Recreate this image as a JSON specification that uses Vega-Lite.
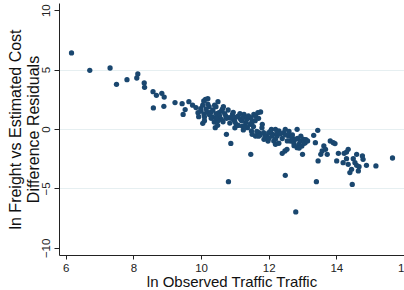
{
  "$schema": "https://vega.github.io/schema/vega-lite/v6.json",
  "width": 345,
  "height": 252,
  "autosize": {"type": "none"},
  "padding": {"left": 59, "top": 3, "right": 0, "bottom": 35},
  "background": "white",
  "config": {
    "view": {"stroke": null},
    "font": "Liberation Sans"
  },
  "data": {
    "values": [
      {"x": 6.17, "y": 6.40}, {"x": 6.71, "y": 4.94}, {"x": 7.31, "y": 5.13}, {"x": 7.50, "y": 3.76},
      {"x": 7.81, "y": 4.15}, {"x": 8.13, "y": 4.63}, {"x": 8.10, "y": 4.29}, {"x": 8.32, "y": 3.87},
      {"x": 8.33, "y": 3.51}, {"x": 8.58, "y": 3.14}, {"x": 8.68, "y": 2.83}, {"x": 8.84, "y": 3.0},
      {"x": 8.91, "y": 2.69}, {"x": 8.59, "y": 1.77}, {"x": 8.90, "y": 1.91}, {"x": 9.23, "y": 2.22},
      {"x": 9.44, "y": 2.13}, {"x": 9.47, "y": 1.23}, {"x": 9.53, "y": 1.63}, {"x": 9.64, "y": 2.30},
      {"x": 9.75, "y": 2.0}, {"x": 9.85, "y": 1.8}, {"x": 9.91, "y": 1.37}, {"x": 9.93, "y": 1.04},
      {"x": 9.99, "y": 1.71}, {"x": 10.05, "y": 2.0}, {"x": 10.08, "y": 2.36}, {"x": 10.13, "y": 2.5},
      {"x": 10.20, "y": 2.55}, {"x": 10.05, "y": 0.48}, {"x": 10.09, "y": 1.23}, {"x": 10.17, "y": 1.43},
      {"x": 10.24, "y": 1.88}, {"x": 10.30, "y": 1.43}, {"x": 10.34, "y": 1.01}, {"x": 10.39, "y": 0.59},
      {"x": 10.42, "y": 0.11}, {"x": 10.44, "y": 1.88}, {"x": 10.53, "y": 1.37}, {"x": 10.63, "y": 1.66},
      {"x": 10.66, "y": 1.88}, {"x": 10.60, "y": 0.81}, {"x": 10.49, "y": 0.31}, {"x": 10.75, "y": -0.45},
      {"x": 10.88, "y": -1.21}, {"x": 10.81, "y": -4.43}, {"x": 10.73, "y": 1.09}, {"x": 10.83, "y": 0.95},
      {"x": 10.93, "y": 1.23}, {"x": 10.98, "y": 0.76}, {"x": 11.04, "y": 0.39}, {"x": 11.10, "y": 1.09},
      {"x": 11.17, "y": 0.81}, {"x": 11.22, "y": 0.25}, {"x": 11.27, "y": 1.23}, {"x": 11.32, "y": 0.53},
      {"x": 11.37, "y": 0.11}, {"x": 11.25, "y": -0.08}, {"x": 11.47, "y": 0.95}, {"x": 11.51, "y": 0.67},
      {"x": 11.56, "y": 1.23}, {"x": 11.61, "y": 1.09}, {"x": 11.68, "y": 1.37}, {"x": 11.76, "y": 1.43},
      {"x": 11.49, "y": -0.17}, {"x": 11.51, "y": -0.45}, {"x": 11.61, "y": -0.59}, {"x": 11.71, "y": -0.31},
      {"x": 11.81, "y": 0.39}, {"x": 11.47, "y": -2.13}, {"x": 11.86, "y": -0.87}, {"x": 11.95, "y": -0.59},
      {"x": 12.0, "y": -0.31}, {"x": 12.08, "y": -0.03}, {"x": 12.12, "y": -0.45}, {"x": 12.20, "y": -0.03},
      {"x": 12.25, "y": -0.59}, {"x": 12.30, "y": -0.17}, {"x": 11.98, "y": -1.01}, {"x": 12.20, "y": -1.29},
      {"x": 12.20, "y": -0.87}, {"x": 12.40, "y": -2.05}, {"x": 12.48, "y": -1.85}, {"x": 12.54, "y": -1.71},
      {"x": 12.49, "y": -3.90}, {"x": 12.44, "y": -0.31}, {"x": 12.49, "y": -0.03}, {"x": 12.59, "y": -0.59},
      {"x": 12.64, "y": -1.01}, {"x": 12.69, "y": -0.73}, {"x": 12.74, "y": -1.15}, {"x": 12.79, "y": -0.87},
      {"x": 12.84, "y": -0.03}, {"x": 12.84, "y": -1.57}, {"x": 12.89, "y": -1.29}, {"x": 12.93, "y": -1.01},
      {"x": 12.98, "y": -1.43}, {"x": 13.03, "y": -0.87}, {"x": 13.08, "y": -1.15}, {"x": 13.00, "y": -2.13},
      {"x": 12.80, "y": -6.98}, {"x": 13.33, "y": -0.53}, {"x": 13.45, "y": -0.11}, {"x": 13.38, "y": -1.15},
      {"x": 13.46, "y": -2.69}, {"x": 13.41, "y": -4.43}, {"x": 13.54, "y": -2.13}, {"x": 13.58, "y": -1.85},
      {"x": 13.63, "y": -1.43}, {"x": 13.68, "y": -1.71}, {"x": 13.73, "y": -2.13}, {"x": 13.82, "y": -1.01},
      {"x": 13.91, "y": -1.15}, {"x": 13.96, "y": -1.23}, {"x": 14.01, "y": -2.69}, {"x": 14.06, "y": -2.05},
      {"x": 14.23, "y": -2.05}, {"x": 14.30, "y": -1.94}, {"x": 14.35, "y": -1.71}, {"x": 14.20, "y": -2.83},
      {"x": 14.30, "y": -2.50}, {"x": 14.35, "y": -2.97}, {"x": 14.47, "y": -4.66}, {"x": 14.40, "y": -3.67},
      {"x": 14.45, "y": -3.39}, {"x": 14.50, "y": -2.50}, {"x": 14.55, "y": -2.83}, {"x": 14.60, "y": -2.13},
      {"x": 14.60, "y": -3.06}, {"x": 14.65, "y": -3.53}, {"x": 14.67, "y": -3.17}, {"x": 14.77, "y": -2.27},
      {"x": 14.79, "y": -2.55}, {"x": 14.89, "y": -3.06}, {"x": 15.17, "y": -3.11}, {"x": 15.66, "y": -2.44},
      {"x": 10.0, "y": 1.5}, {"x": 10.1, "y": 1.0}, {"x": 10.15, "y": 1.7}, {"x": 10.2, "y": 2.1},
      {"x": 10.25, "y": 1.2}, {"x": 10.3, "y": 0.9}, {"x": 10.35, "y": 1.6}, {"x": 10.4, "y": 2.0},
      {"x": 10.45, "y": 1.3}, {"x": 10.5, "y": 0.7}, {"x": 10.55, "y": 1.1}, {"x": 10.6, "y": 1.5},
      {"x": 10.65, "y": 0.6}, {"x": 10.7, "y": 1.3}, {"x": 10.75, "y": 0.9}, {"x": 10.8, "y": 1.6},
      {"x": 10.85, "y": 0.5}, {"x": 10.9, "y": 0.9}, {"x": 10.95, "y": 1.4}, {"x": 11.0, "y": 0.6},
      {"x": 11.05, "y": 1.0}, {"x": 11.1, "y": 0.3}, {"x": 11.15, "y": 1.3}, {"x": 11.2, "y": 0.7},
      {"x": 11.25, "y": 1.0}, {"x": 11.3, "y": 0.2}, {"x": 11.35, "y": 0.8}, {"x": 11.4, "y": 1.1},
      {"x": 11.45, "y": 0.4}, {"x": 11.55, "y": 0.2}, {"x": 11.6, "y": 0.7}, {"x": 11.65, "y": -0.2},
      {"x": 11.7, "y": 0.9}, {"x": 11.75, "y": -0.5}, {"x": 11.8, "y": 0.1}, {"x": 11.85, "y": -0.3},
      {"x": 11.9, "y": -0.6}, {"x": 12.0, "y": -0.8}, {"x": 12.05, "y": -0.2}, {"x": 12.1, "y": -0.6},
      {"x": 12.15, "y": -1.0}, {"x": 12.25, "y": -0.3}, {"x": 12.35, "y": -0.4}, {"x": 12.4, "y": -0.8},
      {"x": 12.5, "y": -0.5}, {"x": 12.55, "y": -1.0}, {"x": 12.6, "y": -0.2}, {"x": 12.7, "y": -0.5},
      {"x": 12.75, "y": -1.4}, {"x": 12.85, "y": -0.8}, {"x": 12.9, "y": -1.6}, {"x": 12.95, "y": -0.6},
      {"x": 13.05, "y": -1.2}, {"x": 13.1, "y": -0.9}, {"x": 13.15, "y": -1.0}, {"x": 10.5, "y": 2.3},
      {"x": 10.1, "y": 0.7}, {"x": 10.45, "y": 0.9}, {"x": 11.0, "y": 0.1}, {"x": 11.5, "y": 0.5},
      {"x": 11.7, "y": -0.6}, {"x": 12.3, "y": -1.2}
    ]
  },
  "mark": {"type": "circle", "size": 28, "color": "#1a476f", "opacity": 1},
  "encoding": {
    "x": {
      "field": "x",
      "type": "quantitative",
      "scale": {"domain": [5.8, 16.0], "nice": false, "zero": false},
      "axis": {
        "values": [6, 8, 10, 12, 14, 16],
        "title": "ln Observed Traffic Traffic",
        "titleFontSize": 15,
        "titleFontWeight": "normal",
        "titleColor": "#111",
        "titlePadding": 1,
        "labelFontSize": 11.5,
        "labelColor": "#222",
        "labelPadding": 3,
        "labelFlush": false,
        "labelOverlap": false,
        "tickSize": 4,
        "tickColor": "#222",
        "domainColor": "#222",
        "grid": false
      }
    },
    "y": {
      "field": "y",
      "type": "quantitative",
      "scale": {"domain": [-10.6, 10.6], "nice": false, "zero": false},
      "axis": {
        "values": [-10, -5, 0, 5, 10],
        "title": ["ln Freight vs Estimated Cost", "Difference Residuals"],
        "titleFontSize": 16,
        "titleFontWeight": "normal",
        "titleColor": "#111",
        "titleLineHeight": 18,
        "titlePadding": -1,
        "labelFontSize": 11.5,
        "labelColor": "#222",
        "labelAngle": 270,
        "labelPadding": 3,
        "labelFlush": false,
        "labelOverlap": false,
        "tickSize": 5,
        "tickColor": "#222",
        "domainColor": "#222",
        "grid": true,
        "gridColor": "#e6eff1",
        "gridOpacity": {"condition": {"test": "abs(datum.value) == 10", "value": 0}, "value": 1}
      }
    }
  }
}
